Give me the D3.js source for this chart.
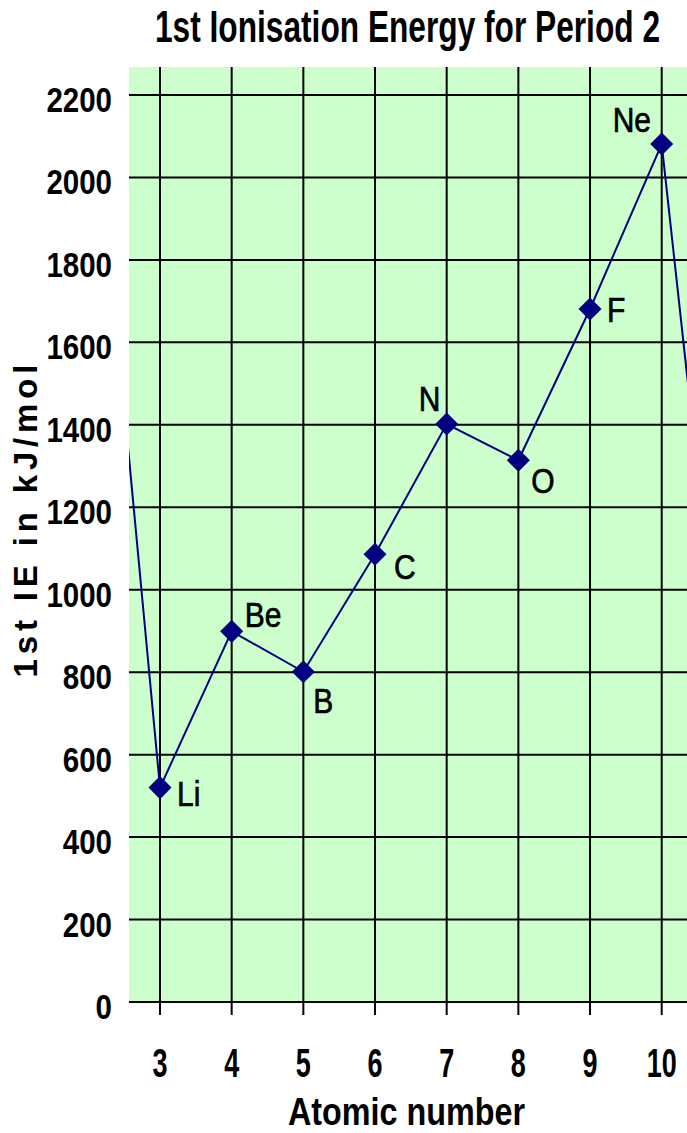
<!DOCTYPE html>
<html>
<head>
<meta charset="utf-8">
<script src="https://cdn.jsdelivr.net/npm/d3@7"></script>
<style>
  html, body { margin: 0; padding: 0; background: #ffffff; }
  svg { display: block; }
</style>
</head>
<body>
<svg id="chart" width="687" height="1133"></svg>
<script>
// First ionisation energies across period 2 (kJ/mol)
const atomicNumbers = [3, 4, 5, 6, 7, 8, 9, 10];
const elements      = ["Li", "Be", "B", "C", "N", "O", "F", "Ne"];
const ieValues      = [520, 899, 801, 1086, 1402, 1314, 1681, 2081];

// Neighbouring elements, only used so the line runs off both edges
const edgeNumbers = [2, 11];
const edgeValues  = [2372, 496];

const yTicks = [0, 200, 400, 600, 800, 1000, 1200, 1400, 1600, 1800, 2000, 2200];
const xTicks = [3, 4, 5, 6, 7, 8, 9, 10];

const titleText = "1st Ionisation Energy for Period 2";
const xTitle = "Atomic number";
const yTitle = "1st IE in kJ/mol";

// label placement around each marker (dx, dy to text start / baseline)
const labelPlacement = {
  Li: [17, 18], Be: [13, -4], B: [10, 41], C: [19, 25],
  N: [-28, -13], O: [13, 33], F: [17, 13], Ne: [-49, -12]
};

const plot = { left: 129, right: 687, top: 67, bottom: 1002 };

const x = d3.scaleLinear().domain([3, 10]).range([160, 661.7]);
const y = d3.scaleLinear().domain([0, 2200]).range([1002, 95]);

const svg = d3.select("#chart");
const sans = "'Liberation Sans', Arial, Helvetica, sans-serif";

// tall, condensed lettering: a vertical stretch on a normal face
function tallText(sel, px, py, sy) {
  return sel.attr("transform", `translate(${px},${py}) scale(1,${sy})`);
}

svg.append("defs").append("clipPath").attr("id", "plotClip")
  .append("rect")
  .attr("x", plot.left).attr("y", plot.top)
  .attr("width", plot.right - plot.left).attr("height", plot.bottom - plot.top);

// plot background
svg.append("rect")
  .attr("x", plot.left).attr("y", plot.top)
  .attr("width", plot.right - plot.left).attr("height", plot.bottom - plot.top)
  .attr("fill", "#ccffcc");

// horizontal grid from the y scale
svg.append("g").selectAll("line").data(yTicks).join("line")
  .attr("x1", plot.left).attr("x2", plot.right)
  .attr("y1", d => y(d)).attr("y2", d => y(d))
  .attr("stroke", "#000").attr("stroke-width", 2);

// vertical grid, running past the baseline as tick marks
svg.append("g").selectAll("line").data(xTicks).join("line")
  .attr("x1", d => x(d)).attr("x2", d => x(d))
  .attr("y1", plot.top).attr("y2", plot.bottom + 13)
  .attr("stroke", "#000").attr("stroke-width", 2);

// y tick labels
svg.append("g").selectAll("text").data(yTicks).join("text")
  .attr("transform", d => `translate(112,${y(d) + 17}) scale(1,1.22)`)
  .attr("text-anchor", "end")
  .attr("font-family", sans).attr("font-weight", "bold")
  .attr("font-size", 29.5)
  .attr("fill", "#000")
  .text(d => d);

// x tick labels
svg.append("g").selectAll("text").data(xTicks).join("text")
  .attr("transform", d => `translate(${x(d)},1077) scale(1,1.5)`)
  .attr("text-anchor", "middle")
  .attr("font-family", sans).attr("font-weight", "bold")
  .attr("font-size", 27)
  .attr("fill", "#000")
  .text(d => d);

// series line, including the segments toward He and Na
const linePoints = [[edgeNumbers[0], edgeValues[0]]]
  .concat(atomicNumbers.map((n, i) => [n, ieValues[i]]))
  .concat([[edgeNumbers[1], edgeValues[1]]]);

const plotArea = svg.append("g").attr("clip-path", "url(#plotClip)");
plotArea.append("path")
  .datum(linePoints)
  .attr("d", d3.line().x(d => x(d[0])).y(d => y(d[1])))
  .attr("fill", "none")
  .attr("stroke", "#000080")
  .attr("stroke-width", 2);

// diamond markers
const diamond = d3.symbol().type(d3.symbolSquare).size(265);
svg.append("g").selectAll("path").data(atomicNumbers).join("path")
  .attr("d", diamond)
  .attr("transform", (d, i) => `translate(${x(d)},${y(ieValues[i])}) rotate(45)`)
  .attr("fill", "#000080");

// element labels
svg.append("g").selectAll("text").data(elements).join("text")
  .attr("transform", (d, i) =>
    `translate(${x(atomicNumbers[i]) + labelPlacement[d][0]},${y(ieValues[i]) + labelPlacement[d][1]}) scale(1,1.16)`)
  .attr("font-family", sans)
  .attr("font-size", 30)
  .attr("fill", "#000")
  .attr("stroke", "#000")
  .attr("stroke-width", 0.6)
  .text(d => d);

// chart title
tallText(svg.append("text"), 407.5, 42, 1.41)
  .attr("text-anchor", "middle")
  .attr("font-family", sans).attr("font-weight", "bold")
  .attr("font-size", 31.7)
  .attr("textLength", 505)
  .attr("lengthAdjust", "spacingAndGlyphs")
  .attr("fill", "#000")
  .text(titleText);

// x axis title
tallText(svg.append("text"), 406.5, 1124.5, 1.22)
  .attr("text-anchor", "middle")
  .attr("font-family", sans).attr("font-weight", "bold")
  .attr("font-size", 32.3)
  .attr("textLength", 237)
  .attr("lengthAdjust", "spacingAndGlyphs")
  .attr("fill", "#000")
  .text(xTitle);

// y axis title
svg.append("text")
  .attr("transform", "translate(37,521) rotate(-90)")
  .attr("text-anchor", "middle")
  .attr("font-family", sans).attr("font-weight", "bold")
  .attr("font-size", 33)
  .attr("textLength", 313)
  .attr("lengthAdjust", "spacing")
  .attr("fill", "#000")
  .text(yTitle);
</script>
</body>
</html>
